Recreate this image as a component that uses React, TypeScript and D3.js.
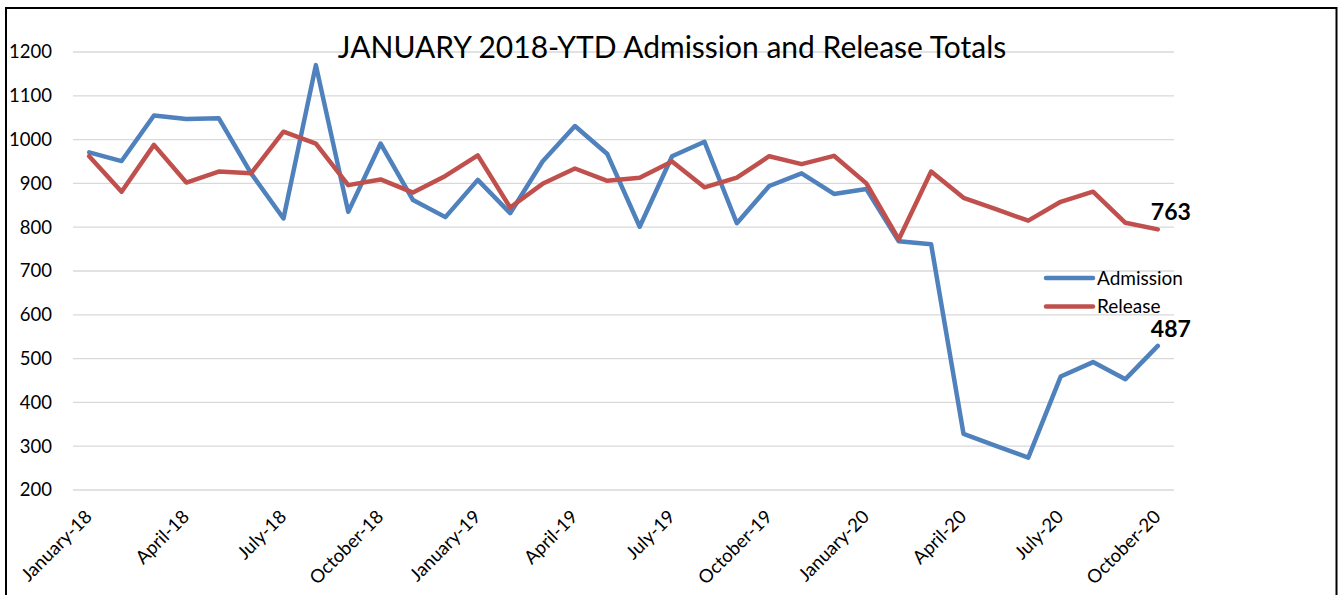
import React from "react";
import * as d3 from "d3";

const categories = [
  "January-18","February-18","March-18","April-18","May-18","June-18","July-18","August-18","September-18","October-18","November-18","December-18",
  "January-19","February-19","March-19","April-19","May-19","June-19","July-19","August-19","September-19","October-19","November-19","December-19",
  "January-20","February-20","March-20","April-20","May-20","June-20","July-20","August-20","September-20","October-20",
];

const admission = [
  971, 951, 1055, 1047, 1049, 923, 820, 1170, 835, 991, 862, 823,
  908, 832, 950, 1031, 967, 801, 962, 995, 809, 894, 923, 876,
  887, 768, 761, 328, 301, 274, 459, 492, 453, 529,
];

const release = [
  962, 881, 988, 902, 927, 923, 1018, 991, 896, 909, 879, 917,
  964, 845, 899, 934, 906, 913, 950, 891, 913, 962, 944, 963,
  900, 772, 927, 867, 841, 815, 858, 881, 810, 795,
];

const xTickLabels = [
  "January-18","April-18","July-18","October-18",
  "January-19","April-19","July-19","October-19",
  "January-20","April-20","July-20","October-20",
];

const yTicks = [200, 300, 400, 500, 600, 700, 800, 900, 1000, 1100, 1200];

const seriesNames = ["Admission", "Release"];
const endLabels = ["487", "763"];

const title = "JANUARY 2018-YTD Admission and Release Totals";

const W = 1339;
const H = 595;
const FONT = "Lato, Carlito, Calibri, sans-serif";
const colors = ["#4F81BD", "#C0504D"];

export default function App() {
  const x = d3.scalePoint<string>().domain(categories).range([73, 1174]).padding(0.5);
  const y = d3.scaleLinear().domain([200, 1200]).range([490, 52]);

  const line = d3
    .line<number>()
    .x((_, i) => x(categories[i]) as number)
    .y((d) => y(d));

  const series = [admission, release];
  const last = categories.length - 1;

  return (
    <svg
      width={W}
      height={H}
      style={{ position: "absolute", left: 0, top: 0, background: "#fff" }}
      fontFamily={FONT}
    >
      <rect x={0} y={0} width={W} height={H} fill="#fff" />
      <rect x={6} y={8} width={1330.5} height={700} fill="none" stroke="#000" strokeWidth={2} />

      {yTicks.map((t) => (
        <g key={t}>
          <line x1={73} x2={1174} y1={y(t)} y2={y(t)} stroke="#d9d9d9" strokeWidth={1.3} />
          <text x={52} y={y(t)} dy="0.35em" textAnchor="end" fontSize={18.5} fill="#000">
            {t}
          </text>
        </g>
      ))}

      {categories
        .filter((c) => xTickLabels.includes(c))
        .map((c) => {
          const px = (x(c) as number) + 4;
          const py = 518;
          return (
            <text
              key={c}
              x={px}
              y={py}
              transform={`rotate(-45 ${px} ${py})`}
              textAnchor="end"
              fontSize={18.5}
              fill="#000"
            >
              {c}
            </text>
          );
        })}

      <text x={672} y={58} textAnchor="middle" fontSize={30} fill="#000">
        {title}
      </text>

      {series.map((s, i) => (
        <path
          key={i}
          d={line(s) || ""}
          fill="none"
          stroke={colors[i]}
          strokeWidth={4.5}
          strokeLinejoin="round"
          strokeLinecap="round"
        />
      ))}

      {series.map((s, i) => (
        <text
          key={"l" + i}
          x={(x(categories[last]) as number) - 7}
          y={y(s[last]) - 9}
          fontSize={23}
          fontWeight="bold"
          fill="#000"
        >
          {endLabels[i]}
        </text>
      ))}

      {seriesNames.map((n, i) => {
        const ly = 278 + i * 28.5;
        return (
          <g key={n}>
            <line x1={1046} x2={1093} y1={ly} y2={ly} stroke={colors[i]} strokeWidth={4.5} strokeLinecap="round" />
            <text x={1097} y={ly} dy="0.35em" fontSize={19} fill="#000">
              {n}
            </text>
          </g>
        );
      })}
    </svg>
  );
}
